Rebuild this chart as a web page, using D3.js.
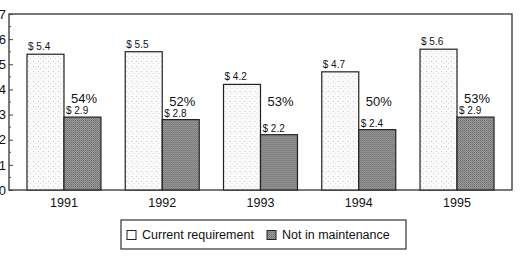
<!DOCTYPE html>
<html>
<head>
<meta charset="utf-8">
<script src="https://cdn.jsdelivr.net/npm/d3@7"></script>
<style>
  body { margin: 0; background: #fff; }
  svg { display: block; font-family: "Liberation Sans", Arial, sans-serif; }
</style>
</head>
<body>
<div id="main"></div>
<script>
const years = ['1991', '1992', '1993', '1994', '1995'];
const currentReq = [5.4, 5.5, 4.2, 4.7, 5.6];
const notMaint = [2.9, 2.8, 2.2, 2.4, 2.9];
const percents = ['54%', '52%', '53%', '50%', '53%'];
const yTicks = [0, 1, 2, 3, 4, 5, 6, 7];
const seriesNames = ['Current requirement', 'Not in maintenance'];

const w = 525, h = 270;
const plot = {left: 9, right: 512, top: 14, bottom: 190};

const svg = d3.select('#main')
              .append('svg')
              .attr('width', w)
              .attr('height', h);

// speckled fills like the scanned original
const defs = svg.append('defs');
const light = defs.append('pattern')
                  .attr('id', 'lightFill')
                  .attr('width', 5).attr('height', 5)
                  .attr('patternUnits', 'userSpaceOnUse');
light.append('rect').attr('width', 5).attr('height', 5).attr('fill', '#fafafa');
light.append('rect').attr('x', 1).attr('y', 1).attr('width', 1).attr('height', 1).attr('fill', '#c8c8c8');
light.append('rect').attr('x', 3).attr('y', 3).attr('width', 1).attr('height', 1).attr('fill', '#dadada');

const dark = defs.append('pattern')
                 .attr('id', 'darkFill')
                 .attr('width', 2).attr('height', 2)
                 .attr('patternUnits', 'userSpaceOnUse');
dark.append('rect').attr('width', 2).attr('height', 2).attr('fill', '#9a9a9a');
dark.append('rect').attr('width', 1).attr('height', 1).attr('fill', '#6e6e6e');
dark.append('rect').attr('x', 1).attr('y', 1).attr('width', 1).attr('height', 1).attr('fill', '#808080');

const x = d3.scaleBand()
            .domain(years)
            .range([plot.left, plot.right])
            .paddingInner(0.247)
            .paddingOuter(0.183);

const xSub = d3.scaleBand()
               .domain([0, 1])
               .range([0, x.bandwidth()]);

const y = d3.scaleLinear()
            .domain([0, 7])
            .range([plot.bottom, plot.top]);

// frame
svg.append('rect')
   .attr('x', plot.left)
   .attr('y', plot.top)
   .attr('width', plot.right - plot.left)
   .attr('height', plot.bottom - plot.top)
   .attr('fill', 'none')
   .attr('stroke', '#333')
   .attr('stroke-width', 1.3);

// y axis, ticks pointing inward (labels run off the left edge as in the scan)
const yAxis = d3.axisLeft(y)
                .tickValues(yTicks)
                .tickSize(-4)
                .tickPadding(3)
                .tickFormat(d3.format('d'));
const gy = svg.append('g')
              .attr('transform', 'translate(' + plot.left + ',0)')
              .call(yAxis);
gy.select('.domain').remove();
gy.selectAll('text').attr('font-size', '13px').attr('fill', '#111');
gy.selectAll('line').attr('stroke', '#444');

svg.append('g')
   .selectAll('line')
   .data(d3.range(0.5, 7, 1))
   .enter()
   .append('line')
   .attr('x1', plot.left)
   .attr('x2', plot.left + 2)
   .attr('y1', (d) => y(d))
   .attr('y2', (d) => y(d))
   .attr('stroke', '#555');

// bars
const groups = svg.selectAll('.grp')
                  .data(years)
                  .enter()
                  .append('g')
                  .attr('class', 'grp')
                  .attr('transform', (d) => 'translate(' + x(d) + ',0)');

groups.append('rect')
      .attr('x', xSub(0))
      .attr('y', (d, i) => y(currentReq[i]))
      .attr('width', xSub.bandwidth())
      .attr('height', (d, i) => y(0) - y(currentReq[i]))
      .attr('fill', 'url(#lightFill)')
      .attr('stroke', '#222')
      .attr('stroke-width', 1.2);

groups.append('rect')
      .attr('x', xSub(1))
      .attr('y', (d, i) => y(notMaint[i]))
      .attr('width', xSub.bandwidth())
      .attr('height', (d, i) => y(0) - y(notMaint[i]))
      .attr('fill', 'url(#darkFill)')
      .attr('stroke', '#222')
      .attr('stroke-width', 1.2);

const fmt = d3.format('.1f');

groups.append('text')
      .attr('x', xSub(0) + 1)
      .attr('y', (d, i) => y(currentReq[i]) - 4)
      .attr('font-size', '10px')
      .attr('fill', '#111')
      .text((d, i) => '$ ' + fmt(currentReq[i]));

groups.append('text')
      .attr('x', xSub(1) + 2)
      .attr('y', (d, i) => y(notMaint[i]) - 3)
      .attr('font-size', '10px')
      .attr('fill', '#111')
      .text((d, i) => '$ ' + fmt(notMaint[i]));

groups.append('text')
      .attr('x', xSub(1) + 7)
      .attr('y', (d, i) => Math.min(y(3.35), y(notMaint[i]) - 14))
      .attr('font-size', '13px')
      .attr('fill', '#111')
      .text((d, i) => percents[i]);

// x labels
const xAxis = d3.axisBottom(x).tickSize(0).tickPadding(8);
const gx = svg.append('g')
              .attr('transform', 'translate(0,' + plot.bottom + ')')
              .call(xAxis);
gx.select('.domain').remove();
gx.selectAll('text').attr('font-size', '12.5px').attr('fill', '#111');

// legend
const legend = svg.append('g').attr('transform', 'translate(121,220)');
legend.append('rect')
      .attr('width', 285)
      .attr('height', 29)
      .attr('fill', '#fff')
      .attr('stroke', '#333')
      .attr('stroke-width', 1.2);

const itemX = [6, 146];
const itemFill = ['#fff', 'url(#darkFill)'];
const items = legend.selectAll('.legend-item')
                    .data(seriesNames)
                    .enter()
                    .append('g')
                    .attr('class', 'legend-item')
                    .attr('transform', (d, i) => 'translate(' + itemX[i] + ',0)');
items.append('rect')
     .attr('x', 0)
     .attr('y', 10.5)
     .attr('width', 9)
     .attr('height', 9)
     .attr('fill', (d, i) => itemFill[i])
     .attr('stroke', '#222');
items.append('text')
     .attr('x', 15)
     .attr('y', 19)
     .attr('font-size', '12.5px')
     .attr('fill', '#111')
     .text((d) => d);
</script>
</body>
</html>
